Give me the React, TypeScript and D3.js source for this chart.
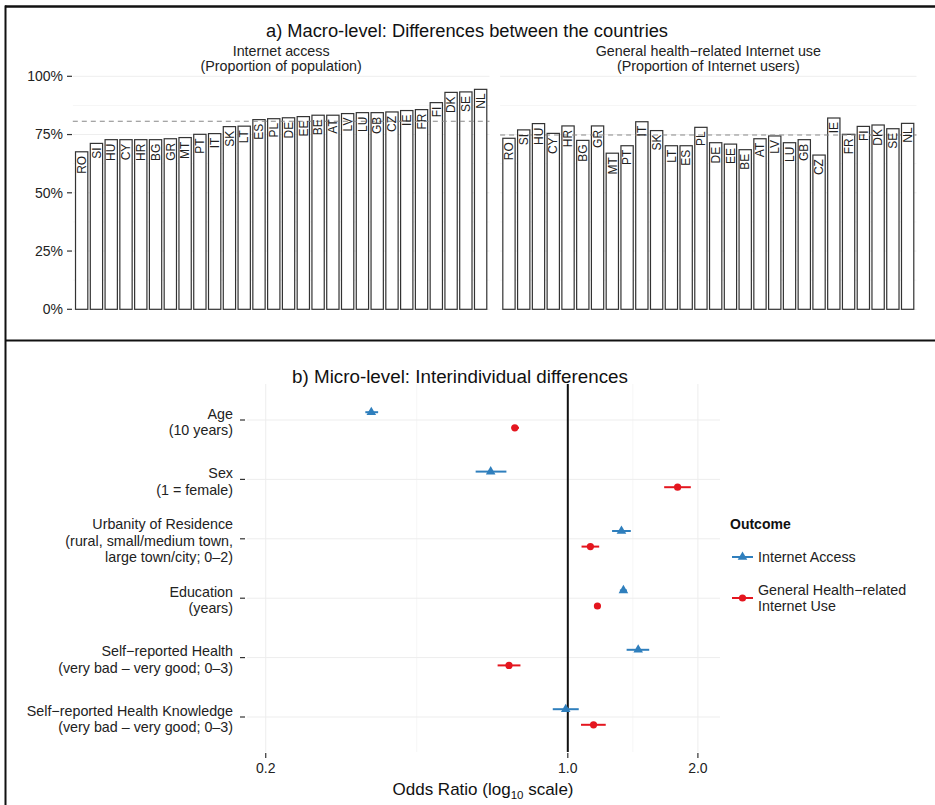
import React from 'react'
import * as d3 from "d3";

// countries in the order of the plot (sorted by internet access)
const countries = ["RO", "SI", "HU", "CY", "HR", "BG", "GR", "MT", "PT", "IT", "SK", "LT", "ES", "PL", "DE", "EE", "BE", "AT", "LV", "LU", "GB", "CZ", "IE", "FR", "FI", "DK", "SE", "NL"]

const internetAccess = [0.676, 0.712, 0.728, 0.728, 0.728, 0.728, 0.732, 0.737, 0.751, 0.754, 0.784, 0.786, 0.814, 0.818, 0.822, 0.827, 0.833, 0.833, 0.840, 0.844, 0.844, 0.847, 0.853, 0.857, 0.887, 0.931, 0.933, 0.944]

const healthUse = [0.734, 0.770, 0.797, 0.755, 0.787, 0.725, 0.787, 0.670, 0.702, 0.805, 0.767, 0.702, 0.702, 0.781, 0.715, 0.709, 0.685, 0.732, 0.744, 0.715, 0.728, 0.662, 0.821, 0.751, 0.785, 0.791, 0.775, 0.798]

const accessMean = 0.807
const healthMean = 0.748

const pctTicks = [0, 0.25, 0.5, 0.75, 1]

const predictors = [
  ["Age", "(10 years)"],
  ["Sex", "(1 = female)"],
  ["Urbanity of Residence", "(rural, small/medium town,", "large town/city; 0–2)"],
  ["Education", "(years)"],
  ["Self−reported Health", "(very bad – very good; 0–3)"],
  ["Self−reported Health Knowledge", "(very bad – very good; 0–3)"]
]

// odds ratio, lower, upper
const accessOR = [[0.351, 0.340, 0.364], [0.663, 0.612, 0.721], [1.331, 1.266, 1.399], [1.345, 1.320, 1.370], [1.455, 1.368, 1.543], [0.989, 0.923, 1.060]]
const healthOR = [[0.754, 0.741, 0.771], [1.795, 1.671, 1.926], [1.128, 1.076, 1.182], [1.171, 1.160, 1.190], [0.731, 0.688, 0.777], [1.147, 1.073, 1.224]]

const orTicks = [0.2, 1.0, 2.0]

const BLUE = "#2f7fbd"
const RED = "#e4161f"
const FONT = "'Liberation Sans', Arial, Helvetica, sans-serif"
const FS = 14.3

function drawChart(svgRef: React.RefObject<SVGSVGElement>) {
  const width = 935
  const height = 805

  const svg = d3.select(svgRef.current)
      .attr("width", width)
      .attr("height", height)
      .attr("font-family", FONT)
  svg.selectAll("*").remove()

  svg.append("rect").attr("width", width).attr("height", height).attr("fill", "white")

  // frame
  svg.append("line").attr("x1", 5.5).attr("x2", 5.5).attr("y1", 5.5).attr("y2", height).attr("stroke", "#111").attr("stroke-width", 2)
  svg.append("line").attr("x1", 5).attr("x2", width).attr("y1", 6.5).attr("y2", 6.5).attr("stroke", "#111").attr("stroke-width", 2.5)
  svg.append("line").attr("x1", 5).attr("x2", width).attr("y1", 340.5).attr("y2", 340.5).attr("stroke", "#111").attr("stroke-width", 2)

  // ---------- a) macro level ----------
  svg.append("text")
      .attr("x", 467).attr("y", 37)
      .attr("text-anchor", "middle")
      .attr("font-size", 18.3)
      .attr("fill", "#111")
      .text("a) Macro-level: Differences between the countries")

  const y = d3.scaleLinear().domain([0, 1]).range([309.3, 76.3])

  const panels = [
    {range: [72.8, 489.5], values: internetAccess, mean: accessMean, title: ["Internet access", "(Proportion of population)"]},
    {range: [500.1, 916.5], values: healthUse, mean: healthMean, title: ["General health−related Internet use", "(Proportion of Internet users)"]}
  ]

  panels.forEach(p => {
    const x = d3.scaleBand<string>().domain(countries).range(p.range as [number, number]).paddingInner(0.1).paddingOuter(0.15)
    const g = svg.append("g")

    // grid
    g.selectAll("line.minor")
      .data([0.125, 0.375, 0.625, 0.875])
      .join("line")
        .attr("x1", p.range[0]).attr("x2", p.range[1])
        .attr("y1", d => y(d)).attr("y2", d => y(d))
        .attr("stroke", "#f6f6f6")
    g.selectAll("line.major")
      .data(pctTicks)
      .join("line")
        .attr("x1", p.range[0]).attr("x2", p.range[1])
        .attr("y1", d => y(d)).attr("y2", d => y(d))
        .attr("stroke", "#eeeeee")

    g.selectAll("rect")
      .data(countries)
      .join("rect")
        .attr("x", d => x(d)! + 0.5)
        .attr("y", (d, i) => y(p.values[i]))
        .attr("width", x.bandwidth() - 1)
        .attr("height", (d, i) => y(0) - y(p.values[i]))
        .attr("fill", "white")
        .attr("stroke", "#333")
        .attr("stroke-width", 1.2)

    g.append("line")
        .attr("x1", p.range[0]).attr("x2", p.range[1])
        .attr("y1", y(p.mean)).attr("y2", y(p.mean))
        .attr("stroke", "#888")
        .attr("stroke-width", 1.1)
        .attr("stroke-dasharray", "5,4")

    g.selectAll("text.lab")
      .data(countries)
      .join("text")
        .attr("transform", (d, i) => `translate(${x(d)! + x.bandwidth() / 2},${y(p.values[i]) + 4}) rotate(-90)`)
        .attr("text-anchor", "end")
        .attr("dy", "0.35em")
        .attr("font-size", 12)
        .attr("fill", "#222")
        .text(d => d)

    const cx = (p.range[0] + p.range[1]) / 2
    p.title.forEach((t, i) => {
      g.append("text")
          .attr("x", cx).attr("y", 55.5 + i * 15)
          .attr("text-anchor", "middle")
          .attr("font-size", FS)
          .attr("fill", "#222")
          .text(t)
    })
  })

  const yAxis = svg.append("g")
  yAxis.selectAll("line")
    .data(pctTicks)
    .join("line")
      .attr("x1", 67).attr("x2", 72)
      .attr("y1", d => y(d)).attr("y2", d => y(d))
      .attr("stroke", "#333").attr("stroke-width", 1.2)
  yAxis.selectAll("text")
    .data(pctTicks)
    .join("text")
      .attr("x", 63).attr("y", d => y(d))
      .attr("dy", "0.35em")
      .attr("text-anchor", "end")
      .attr("font-size", 14)
      .attr("fill", "#222")
      .text(d => d3.format(".0%")(d))

  // ---------- b) micro level ----------
  svg.append("text")
      .attr("x", 460).attr("y", 383)
      .attr("text-anchor", "middle")
      .attr("font-size", 18.8)
      .attr("fill", "#111")
      .text("b) Micro-level: Interindividual differences")

  const x2 = d3.scaleLog().domain([0.181, 2.25]).range([247, 720])
  const y2 = d3.scalePoint<number>().domain(d3.range(predictors.length)).range([420, 717])
  const top = 384, bottom = 752

  const g2 = svg.append("g")
  g2.selectAll("line.vminor")
    .data([Math.sqrt(0.2), Math.sqrt(2)])
    .join("line")
      .attr("x1", d => x2(d)).attr("x2", d => x2(d))
      .attr("y1", top).attr("y2", bottom)
      .attr("stroke", "#f6f6f6")
  g2.selectAll("line.vmajor")
    .data(orTicks)
    .join("line")
      .attr("x1", d => x2(d)).attr("x2", d => x2(d))
      .attr("y1", top).attr("y2", bottom)
      .attr("stroke", "#ededed")
  g2.selectAll("line.h")
    .data(d3.range(predictors.length))
    .join("line")
      .attr("x1", 247).attr("x2", 720)
      .attr("y1", d => y2(d)!).attr("y2", d => y2(d)!)
      .attr("stroke", "#ededed")

  g2.append("line")
      .attr("x1", x2(1)).attr("x2", x2(1))
      .attr("y1", top).attr("y2", bottom)
      .attr("stroke", "#111").attr("stroke-width", 2)

  const series = [
    {data: accessOR, color: BLUE, dy: -7.8, shape: "tri"},
    {data: healthOR, color: RED, dy: 7.8, shape: "dot"}
  ]
  const tri = d3.symbol(d3.symbolTriangle, 40)

  series.forEach(s => {
    const gs = g2.append("g")
    gs.selectAll("line")
      .data(s.data)
      .join("line")
        .attr("x1", d => x2(d[1])).attr("x2", d => x2(d[2]))
        .attr("y1", (d, i) => y2(i)! + s.dy).attr("y2", (d, i) => y2(i)! + s.dy)
        .attr("stroke", s.color).attr("stroke-width", 2)
    if (s.shape === "tri") {
      gs.selectAll("path")
        .data(s.data)
        .join("path")
          .attr("d", tri)
          .attr("transform", (d, i) => `translate(${x2(d[0])},${y2(i)! + s.dy})`)
          .attr("fill", s.color)
    } else {
      gs.selectAll("circle")
        .data(s.data)
        .join("circle")
          .attr("cx", d => x2(d[0]))
          .attr("cy", (d, i) => y2(i)! + s.dy)
          .attr("r", 3.6)
          .attr("fill", s.color)
    }
  })

  // y labels
  const yl = svg.append("g")
  predictors.forEach((lines, i) => {
    const cy = y2(i)! + 2
    yl.append("line")
        .attr("x1", 240).attr("x2", 245)
        .attr("y1", y2(i)!).attr("y2", y2(i)!)
        .attr("stroke", "#333").attr("stroke-width", 1.2)
    const t = yl.append("text")
        .attr("x", 233)
        .attr("text-anchor", "end")
        .attr("font-size", FS)
        .attr("fill", "#222")
    lines.forEach((l, j) => {
      t.append("tspan")
          .attr("x", 233)
          .attr("y", cy + (j - (lines.length - 1) / 2) * 16.5)
          .attr("dy", "0.35em")
          .text(l)
    })
  })

  // x axis
  const xa = svg.append("g")
  xa.selectAll("line")
    .data(orTicks)
    .join("line")
      .attr("x1", d => x2(d)).attr("x2", d => x2(d))
      .attr("y1", 753).attr("y2", 758)
      .attr("stroke", "#333").attr("stroke-width", 1.2)
  xa.selectAll("text")
    .data(orTicks)
    .join("text")
      .attr("x", d => x2(d)).attr("y", 773)
      .attr("text-anchor", "middle")
      .attr("font-size", 14)
      .attr("fill", "#222")
      .text(d => d3.format(".1f")(d))

  const xt = svg.append("text")
      .attr("x", 483).attr("y", 795)
      .attr("text-anchor", "middle")
      .attr("font-size", 17)
      .attr("fill", "#111")
  xt.append("tspan").text("Odds Ratio (log")
  xt.append("tspan").attr("font-size", 11.5).attr("dy", 4).text("10")
  xt.append("tspan").attr("dy", -4).text(" scale)")

  // legend
  const lg = svg.append("g")
  lg.append("text")
      .attr("x", 730).attr("y", 529)
      .attr("font-size", 14)
      .attr("font-weight", "bold")
      .attr("fill", "#111")
      .text("Outcome")

  const items = [
    {color: BLUE, shape: "tri", y: 557, lines: ["Internet Access"]},
    {color: RED, shape: "dot", y: 598, lines: ["General Health−related", "Internet Use"]}
  ]
  items.forEach(it => {
    lg.append("line")
        .attr("x1", 732).attr("x2", 753)
        .attr("y1", it.y).attr("y2", it.y)
        .attr("stroke", it.color).attr("stroke-width", 2)
    if (it.shape === "tri") {
      lg.append("path").attr("d", tri).attr("transform", `translate(742.5,${it.y})`).attr("fill", it.color)
    } else {
      lg.append("circle").attr("cx", 742.5).attr("cy", it.y).attr("r", 3.6).attr("fill", it.color)
    }
    const t = lg.append("text").attr("font-size", FS).attr("fill", "#222")
    it.lines.forEach((l, j) => {
      t.append("tspan")
          .attr("x", 758)
          .attr("y", it.y + (j - (it.lines.length - 1) / 2) * 15.5)
          .attr("dy", "0.35em")
          .text(l)
    })
  })

  return svg.node()
}

const App: React.FunctionComponent = () => {
  const svg = React.useRef<SVGSVGElement>(null)

  React.useEffect(() => {
    drawChart(svg)
  }, [svg])

  return (
    <div id="chart" style={{position: "absolute", left: 0, top: 0}}>
      <svg ref={svg} style={{display: "block"}} />
    </div>
  )
}

export default App
